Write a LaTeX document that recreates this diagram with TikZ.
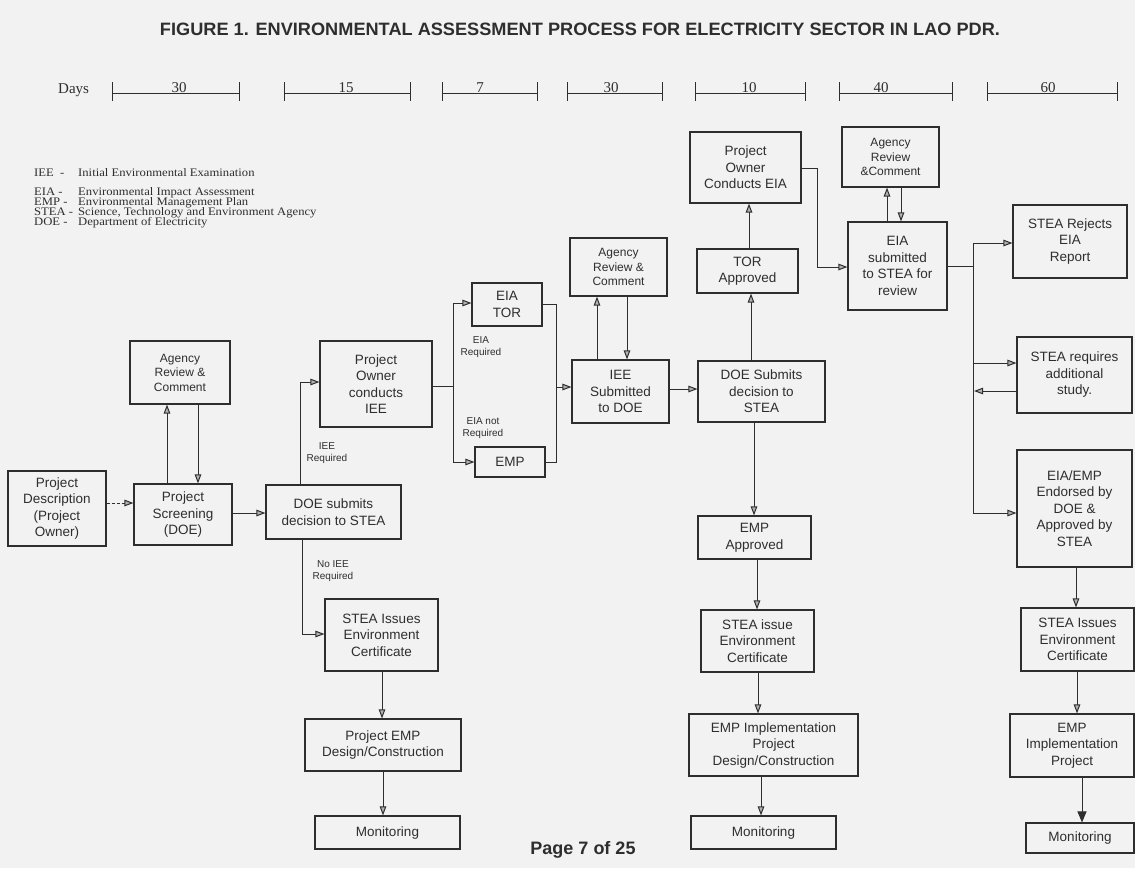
\documentclass[tikz,border=0pt]{standalone}
\usepackage{fontspec}
\setmainfont{Liberation Sans}
\newfontfamily\serifface{Liberation Serif}
\usetikzlibrary{arrows.meta,calc}
\definecolor{paper}{HTML}{F2F2F2}
\definecolor{ink}{HTML}{2E2E2E}
\newcommand\bx[7][box]{\node[#1,minimum width={(#5-#3)*1pt},minimum height={(#6-#4)*1pt}] (#2) at ({(#3+#5)/2},{(#4+#6)/2}) {#7};}
\newcommand\legscale[1]{\scalebox{1.1}[1]{#1}}
\begin{document}
\begin{tikzpicture}[x=1pt,y=-1pt,
  box/.style={draw=ink,line width=1.1pt,inner sep=0pt,align=center,text=ink,font=\fontsize{13.5}{16.5}\selectfont},
  sbox/.style={box,font=\fontsize{12}{14.5}\selectfont},
  lab/.style={align=center,text=ink,inner sep=0pt,font=\fontsize{10}{12.5}\selectfont},
  con/.style={draw=ink,line width=1pt},
  arr/.style={con,-{Triangle[length=9pt,width=6.5pt,fill=gray!60]}},
  darr/.style={con,-{Triangle[length=11pt,width=9pt,fill=ink]}},
  dayf/.style={text=ink,inner sep=0pt,font=\serifface\fontsize{15}{15}\selectfont},
  legf/.style={text=ink,inner sep=0pt,anchor=base west,font=\serifface\fontsize{11.5}{11.5}\selectfont},
  bar/.style={draw=ink,line width=0.9pt}]
\useasboundingbox (0,0) rectangle (1135,868);
\fill[paper] (0,0) rectangle (1135,868);

% title
\node[text=ink,inner sep=0pt] (title) at (580,29) {\resizebox{840pt}{12.5pt}{\bfseries FIGURE 1. ENVIRONMENTAL ASSESSMENT PROCESS FOR ELECTRICITY SECTOR IN LAO PDR.}};

% days row
\node[dayf,anchor=base west] (days) at (58,93) {Days};
\foreach \a/\b/\c/\t [count=\i] in {112/239/179/30,284/410/346/15,442/537/480/7,567/662/611/30,695/805/749/10,839/952/881/40,987/1117/1048/60}{
  \draw[bar] (\a,82) -- (\a,101) (\a,93) -- (\b,93) (\b,82) -- (\b,101);
  \node[dayf,anchor=base] (d\i) at (\c,92) {\t};
}

% legend
\node[legf] (k1) at (34,176) {\legscale{IEE\ \ -}};
\node[legf] (v1) at (78,176) {\legscale{Initial Environmental Examination}};
\node[legf] (k2) at (34,195) {\legscale{EIA -}};
\node[legf] (v2) at (78,195) {\legscale{Environmental Impact Assessment}};
\node[legf] (k3) at (34,205) {\legscale{EMP -}};
\node[legf] (v3) at (78,205) {\legscale{Environmental Management Plan}};
\node[legf] (k4) at (34,215) {\legscale{STEA -}};
\node[legf] (v4) at (78,215) {\legscale{Science, Technology and Environment Agency}};
\node[legf] (k5) at (34,225) {\legscale{DOE -}};
\node[legf] (v5) at (78,225) {\legscale{Department of Electricity}};

% boxes
\bx{pd}{8}{471}{106}{546}{Project\\Description\\(Project\\Owner)}
\bx{ps}{134}{484}{232}{545}{Project\\Screening\\(DOE)}
\bx[sbox]{ag1}{130}{341}{230}{404}{Agency\\Review \&\\Comment}
\bx{dsub}{266}{485}{401}{539}{DOE submits\\decision to STEA}
\bx{poiee}{320}{341}{432}{427}{Project\\Owner\\conducts\\IEE}
\bx{eiator}{472}{283}{542}{326}{EIA\\TOR}
\bx{emp}{475}{447}{545}{477}{EMP}
\bx{ieesub}{572}{360}{669}{423}{IEE\\Submitted\\to DOE}
\bx[sbox]{ag2}{570}{238}{667}{296}{Agency\\Review \&\\Comment}
\bx{dsub2}{698}{361}{825}{422}{DOE Submits\\decision to\\STEA}
\bx{tor}{697}{249}{798}{293}{TOR\\Approved}
\bx{poeia}{690}{132}{801}{203}{Project\\Owner\\Conducts EIA}
\bx[sbox]{ag3}{842}{127}{939}{187}{Agency\\Review\\\&Comment}
\bx{eiasub}{848}{222}{947}{310}{EIA\\submitted\\to STEA for\\review}
\bx{rej}{1013}{205}{1127}{278}{STEA Rejects\\EIA\\Report}
\bx{req}{1017}{337}{1132}{413}{STEA requires\\additional\\study.}
\bx{endo}{1017}{450}{1132}{567}{EIA/EMP\\Endorsed by\\DOE \&\\Approved by\\STEA}
\bx{cert3}{1021}{608}{1134}{671}{STEA Issues\\Environment\\Certificate}
\bx{impl3}{1010}{714}{1134}{777}{EMP\\Implementation\\Project}
\bx{mon3}{1026}{823}{1134}{853}{Monitoring}
\bx{empapp}{698}{516}{811}{559}{EMP\\Approved}
\bx{cert2}{701}{610}{814}{672}{STEA issue\\Environment\\Certificate}
\bx{impl2}{689}{714}{858}{776}{EMP Implementation\\Project\\Design/Construction}
\bx{mon2}{691}{816}{836}{849}{Monitoring}
\bx{cert1}{325}{599}{438}{671}{STEA Issues\\Environment\\Certificate}
\bx{pemp}{305}{719}{461}{771}{Project EMP\\Design/Construction}
\bx{mon1}{315}{816}{460}{849}{Monitoring}

% labels
\node[lab] (l1) at (327,453) {IEE\\Required};
\node[lab] (l2) at (333,571) {No IEE\\Required};
\node[lab] (l3) at (481,347) {EIA\\Required};
\node[lab] (l4) at (483,428) {EIA not\\Required};

% connectors
\draw[arr,dash pattern=on 3pt off 2pt] (pd.east |- 0,503) -- (ps.west |- 0,503);
\draw[arr] (ps.north -| 167,0) -- (ag1.south -| 167,0);
\draw[arr] (ag1.south -| 198,0) -- (ps.north -| 198,0);
\draw[arr] (ps.east |- 0,513) -- (dsub.west |- 0,513);
\draw[arr] (dsub.north -| 300,0) |- (poiee.west |- 0,382);
\draw[arr] (dsub.south -| 302,0) |- (cert1.west |- 0,634);
\coordinate (b1) at (453,386); \coordinate (b1t) at (453,303); \coordinate (b1b) at (453,462);
\draw[con] (poiee.east |- b1) -- (b1);
\draw[arr] (b1) -- (b1t) -- (eiator.west |- b1t);
\draw[arr] (b1) -- (b1b) -- (emp.west |- b1b);
\coordinate (b2) at (556,387); \coordinate (b2t) at (556,304); \coordinate (b2b) at (556,462);
\draw[con] (eiator.east |- b2t) -- (b2t) -- (b2b) -- (emp.east |- b2b);
\draw[arr] (b2) -- (ieesub.west |- b2);
\draw[arr] (ieesub.north -| 597,0) -- (ag2.south -| 597,0);
\draw[arr] (ag2.south -| 627,0) -- (ieesub.north -| 627,0);
\draw[arr] (ieesub.east |- 0,389) -- (dsub2.west |- 0,389);
\draw[arr] (dsub2.north -| 751,0) -- (tor.south -| 751,0);
\draw[arr] (dsub2.south -| 754,0) -- (empapp.north -| 754,0);
\draw[arr] (tor.north -| 749,0) -- (poeia.south -| 749,0);
\coordinate (b3) at (817,168);
\draw[arr] (poeia.east |- b3) -- (b3) |- (eiasub.west |- 0,267);
\draw[arr] (eiasub.north -| 887,0) -- (ag3.south -| 887,0);
\draw[arr] (ag3.south -| 901,0) -- (eiasub.north -| 901,0);
\coordinate (b4) at (973,266); \coordinate (b4t) at (973,243); \coordinate (b4b) at (973,513);
\coordinate (b4m) at (973,363); \coordinate (b4r) at (974,391);
\draw[con] (eiasub.east |- b4) -- (b4);
\draw[con] (b4t) -- (b4b);
\draw[arr] (b4t) -- (rej.west |- b4t);
\draw[arr] (b4m) -- (req.west |- b4m);
\draw[arr] (b4b) -- (endo.west |- b4b);
\draw[arr] (req.west |- b4r) -- (b4r);
\draw[arr] (endo.south -| 1076,0) -- (cert3.north -| 1076,0);
\draw[arr] (cert3.south -| 1077,0) -- (impl3.north -| 1077,0);
\draw[darr] (impl3.south -| 1082,0) -- (mon3.north -| 1082,0);
\draw[arr] (empapp.south -| 757,0) -- (cert2.north -| 757,0);
\draw[arr] (cert2.south -| 758,0) -- (impl2.north -| 758,0);
\draw[arr] (impl2.south -| 761,0) -- (mon2.north -| 761,0);
\draw[arr] (cert1.south -| 382,0) -- (pemp.north -| 382,0);
\draw[arr] (pemp.south -| 383,0) -- (mon1.north -| 383,0);

% page number
\node[text=ink,inner sep=0pt,font=\bfseries\fontsize{18}{18}\selectfont] (page) at (583,850) {Page 7 of 25};
\end{tikzpicture}
\end{document}
